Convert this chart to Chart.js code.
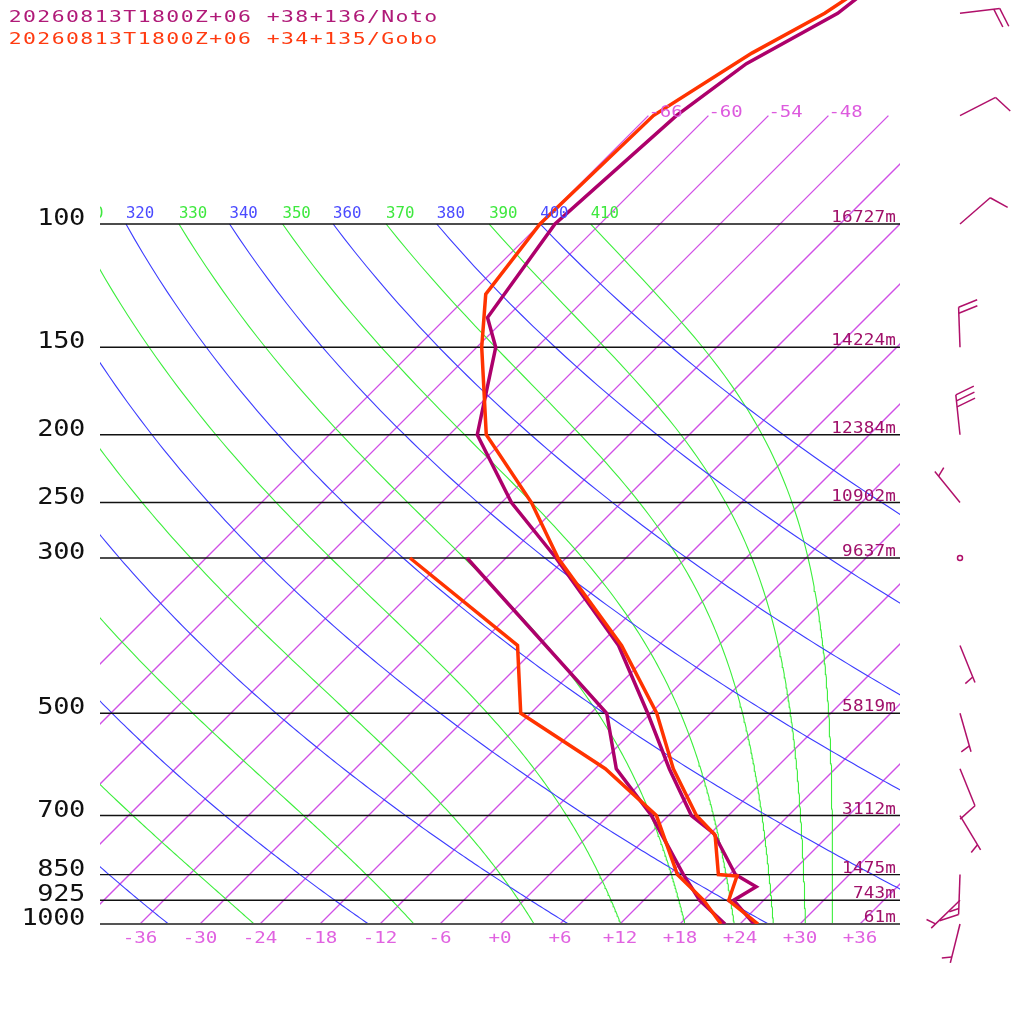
<!DOCTYPE html>
<html>
<head>
<meta charset="utf-8">
<title>Skew-T Noto / Gobo</title>
<script src="https://cdn.jsdelivr.net/npm/chart.js@4.4.1/dist/chart.umd.min.js"></script>
<style>
html,body{margin:0;padding:0;background:#fff}
#c{display:block}
</style>
</head>
<body>
<canvas id="c" width="1024" height="1024"></canvas>
<script>
// sounding data
var titles = ['20260813T1800Z+06 +38+136/Noto', '20260813T1800Z+06 +34+135/Gobo']

// Noto
var notoTempP = [1000, 925, 885, 850, 742, 700, 600, 500, 400, 300, 250, 200, 150, 136, 100, 70, 59, 50, 45]
var notoTemp  = [25.4, 21.0, 21.9, 18.6, 12.3, 8.3, 1.4, -6.3, -16.0, -31.0, -41.0, -51.2, -58.1, -61.9, -64.5, -63.2, -61.4, -57.3, -56.4]
var notoDewP  = [1000, 925, 850, 700, 600, 500, 300]
var notoDew   = [22.5, 17.6, 13.4, 4.3, -3.9, -10.4, -39.9]

// Gobo
var goboTempP = [1000, 925, 854, 850, 746, 700, 600, 500, 400, 300, 250, 200, 150, 126, 100, 70, 57, 50, 45]
var goboTemp  = [25.8, 20.5, 18.9, 16.9, 12.6, 8.8, 1.8, -5.4, -15.7, -30.8, -39.0, -50.3, -59.5, -64.4, -66.0, -65.5, -61.9, -58.6, -57.0]
var goboDewP  = [1000, 925, 850, 700, 600, 500, 400, 300]
var goboDew   = [22.1, 18.0, 12.8, 4.8, -5.0, -19.0, -26.1, -45.6]

// pressure levels, heights (Noto)
var levels  = [100, 150, 200, 250, 300, 500, 700, 850, 925, 1000]
var heights = ['16727m', '14224m', '12384m', '10902m', '9637m', '5819m', '3112m', '1475m', '743m', '61m']

// winds (Noto)
var windP   = [50, 70, 100, 150, 200, 250, 300, 400, 500, 600, 700, 850, 925, 1000]
var windDir = [83, 63, 49, 358, 354, 321, 0, 158, 164, 158, 149, 182, 226, 194]
var windSpd = [20, 10, 10, 20, 30, 5, 0, 5, 5, 10, 5, 15, 5, 5]

// background lines
var tempTicks  = [-36, -30, -24, -18, -12, -6, 0, 6, 12, 18, 24, 30, 36]
var isotherms  = [-66, -60, -54, -48, -42, -36, -30, -24, -18, -12, -6, 0, 6, 12, 18, 24, 30, 36]
var dryTheta   = [240, 260, 280, 300, 320, 340, 360, 380, 400]
var moistTheta = [250, 270, 290, 310, 330, 350, 370, 390, 410]

var notoColor = '#ad006b'
var goboColor = '#ff3300'
var isoColor = '#d050e6'
var SKEW = 30.4
var pTop = 1000 * Math.exp(-924 / 304)

function skewX(t, p) { return t + SKEW * Math.log(1000 / p) }

function toPts(ps, ts) {
    var out = []
    for (var i = 0; i < ps.length; i++) out.push({x: skewX(ts[i], ps[i]), y: ps[i]})
    return out
}

function esat(tc) { return 6.112 * Math.exp(17.67 * tc / (tc + 243.5)) }

function thetaE(tk, p) {
    var es = esat(tk - 273.15)
    if (es > 0.5 * p) return 1e9
    var r = 622 * es / (p - es)
    return tk * Math.pow(1000 / p, 0.2854 * (1 - 0.00028 * r)) * Math.exp((3.376 / tk - 0.00254) * r * (1 + 0.00081 * r))
}

function moistT(te, p) {
    var lo = 150, hi = 340
    for (var i = 0; i < 50; i++) {
        var mid = (lo + hi) / 2
        if (thetaE(mid, p) > te) hi = mid; else lo = mid
    }
    return (lo + hi) / 2 - 273.15
}

function dryT(th, p) { return th * Math.pow(p / 1000, 0.2857) - 273.15 }

function mkLine(pts, color, width, order, clip) {
    return {data: pts, borderColor: color, backgroundColor: color, borderWidth: width, pointRadius: 0,
        showLine: true, fill: false, tension: 0, order: order, clip: clip}
}

var datasets = []

// soundings: Gobo on top
datasets.push(mkLine(toPts(goboTempP, goboTemp), goboColor, 3.5, 0, 0))
datasets.push(mkLine(toPts(goboDewP, goboDew), goboColor, 3.5, 0, 0))
datasets.push(mkLine(toPts(notoTempP, notoTemp), notoColor, 3.5, 1, 0))
datasets.push(mkLine(toPts(notoDewP, notoDew), notoColor, 3.5, 1, 0))

// pressure lines
levels.forEach(function (lev) {
    datasets.push(mkLine([{x: -40, y: lev}, {x: 40, y: lev}], lev == 1000 ? '#555' : '#111', lev == 1000 ? 2 : 1.4, 5, 2))
})

// dry adiabats and pseudo adiabats
var curveP = []
for (var cp = 1000; cp >= 100; cp -= 5) curveP.push(cp)
dryTheta.forEach(function (th) {
    datasets.push(mkLine(curveP.map(function (pp) { return {x: skewX(dryT(th, pp), pp), y: pp} }), '#3c3cff', 1.1, 8, 0))
})
moistTheta.forEach(function (te) {
    datasets.push(mkLine(curveP.map(function (pp) { return {x: skewX(moistT(te, pp), pp), y: pp} }), '#3cee3c', 1.1, 8, 0))
})

// isotherms (1px diagonals render too dark here, so a bit wider)
isotherms.forEach(function (t) {
    datasets.push(mkLine([{x: skewX(t, 1000), y: 1000}, {x: skewX(t, 70), y: 70}], isoColor, 1.3, 9, 0))
})

// monospaced text with a fixed pitch
function mono(ctx, s, x, y, pitch, align, sx) {
    var w = pitch * s.length
    var x0 = align == 'right' ? x - w : (align == 'center' ? x - w / 2 : x)
    ctx.textAlign = 'center'
    ctx.textBaseline = 'alphabetic'
    for (var i = 0; i < s.length; i++) {
        ctx.save()
        ctx.translate(x0 + pitch * (i + 0.5), y)
        ctx.scale(sx, 1)
        ctx.fillText(s[i], 0, 0)
        ctx.restore()
    }
}

function fmt(t) { return t < 0 ? String(t) : '+' + t }

function drawBarb(ctx, x, y, dir, spd) {
    ctx.strokeStyle = '#b0106a'
    ctx.lineWidth = 1.5
    if (spd < 2.5) {
        ctx.beginPath(); ctx.arc(x, y, 2.5, 0, 2 * Math.PI); ctx.stroke()
        return
    }
    var a = dir * Math.PI / 180
    var ux = Math.sin(a), uy = -Math.cos(a)
    var tx = x + ux * 40, ty = y + uy * 40
    ctx.beginPath(); ctx.moveTo(x, y); ctx.lineTo(tx, ty); ctx.stroke()
    var r = 70 * Math.PI / 180
    var bx = ux * Math.cos(r) - uy * Math.sin(r)
    var by = ux * Math.sin(r) + uy * Math.cos(r)
    var full = Math.floor(spd / 10)
    var half = Math.round((spd - full * 10) / 5)
    var pos = full == 0 ? 1 : 0
    for (var i = 0; i < full + half; i++) {
        var len = i < full ? 20 : 10
        var sx0 = tx - ux * 6 * pos, sy0 = ty - uy * 6 * pos
        ctx.beginPath(); ctx.moveTo(sx0, sy0); ctx.lineTo(sx0 + bx * len, sy0 + by * len); ctx.stroke()
        pos++
    }
}

var MONO = '"DejaVu Sans Mono"'

var labelsPlugin = {
    id: 'skewLabels',
    afterDatasetsDraw: function (chart) {
        var ctx = chart.ctx
        var area = chart.chartArea
        var xs = chart.scales.x, ys = chart.scales.y
        ctx.save()

        // adiabat labels at 100 hPa, clipped to the plot
        ctx.save()
        ctx.beginPath()
        ctx.rect(area.left, 0, area.right - area.left, area.bottom)
        ctx.clip()
        ctx.font = '15px ' + MONO
        var y100 = ys.getPixelForValue(100)
        dryTheta.forEach(function (th) {
            ctx.fillStyle = '#4a4aff'
            mono(ctx, String(th), xs.getPixelForValue(skewX(dryT(th, 100), 100)), y100 - 6, 9.4, 'left', 1.05)
        })
        moistTheta.forEach(function (te) {
            ctx.fillStyle = '#3ee83e'
            mono(ctx, String(te), xs.getPixelForValue(skewX(moistT(te, 100), 100)), y100 - 6, 9.4, 'left', 1.05)
        })
        ctx.restore()

        // isotherm labels at 70 hPa
        ctx.font = '16.5px ' + MONO
        ctx.fillStyle = '#dd5ade'
        var y70 = ys.getPixelForValue(70)
        isotherms.forEach(function (t) {
            var x = xs.getPixelForValue(skewX(t, 70))
            var s = fmt(t)
            if (x + s.length * 11.4 <= area.right) mono(ctx, s, x, y70 + 1, 11.4, 'left', 1.15)
        })

        // pressure labels and heights
        levels.forEach(function (lev, i) {
            var y = ys.getPixelForValue(lev)
            ctx.font = '23.5px ' + MONO
            ctx.fillStyle = '#111'
            mono(ctx, String(lev), area.left - 15, y + 1, 15.8, 'right', 1.15)
            ctx.font = '16px ' + MONO
            ctx.fillStyle = '#a0106a'
            mono(ctx, heights[i], area.right - 4, y - 2, 10.8, 'right', 1.1)
        })

        // temperature ticks
        ctx.font = '16px ' + MONO
        ctx.fillStyle = '#e062e0'
        tempTicks.forEach(function (t) {
            mono(ctx, fmt(t), xs.getPixelForValue(t), area.bottom + 19, 11.5, 'center', 1.2)
        })

        // titles
        ctx.font = '16.5px ' + MONO
        ctx.fillStyle = '#b01a78'
        mono(ctx, titles[0], 8, 22, 14.33, 'left', 1.3)
        ctx.fillStyle = '#ff3a10'
        mono(ctx, titles[1], 8, 44, 14.33, 'left', 1.3)

        // wind barbs
        var bxp = area.right + 60
        for (var i = 0; i < windP.length; i++) {
            drawBarb(ctx, bxp, ys.getPixelForValue(windP[i]), windDir[i], windSpd[i])
        }
        ctx.restore()
    }
}

var ctx = document.getElementById('c').getContext('2d')
var myChart = new Chart(ctx, {
    type: 'scatter',
    data: {datasets: datasets},
    options: {
        responsive: false,
        animation: false,
        devicePixelRatio: 1,
        events: [],
        layout: {padding: {left: 100, right: 124, top: 0, bottom: 100}},
        plugins: {legend: {display: false}, tooltip: {enabled: false}},
        scales: {
            x: {type: 'linear', min: -40, max: 40, display: false},
            y: {type: 'logarithmic', reverse: true, min: pTop, max: 1000, display: false}
        }
    },
    plugins: [labelsPlugin]
})
</script>
</body>
</html>
